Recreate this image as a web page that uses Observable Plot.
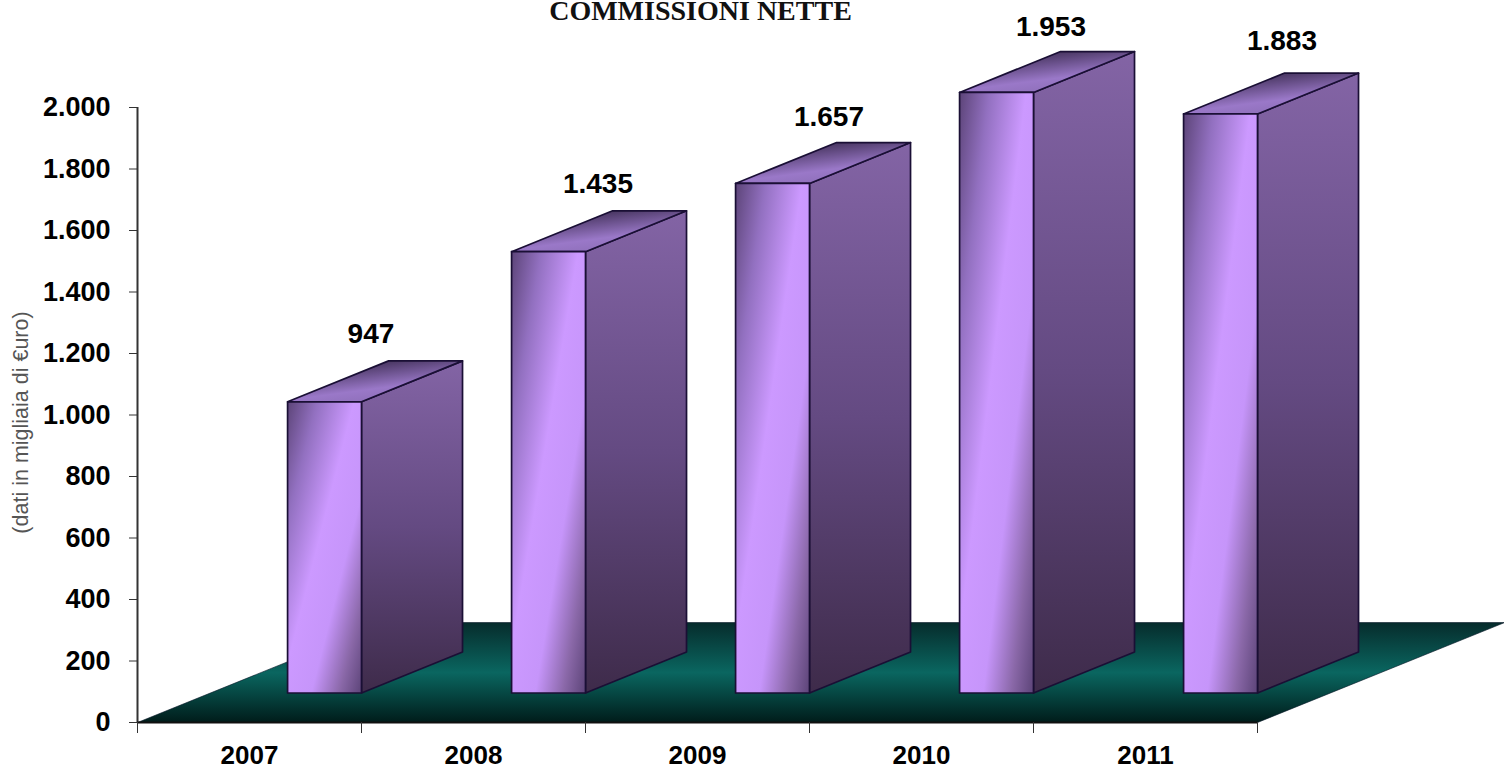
<!DOCTYPE html>
<html lang="it">
<head>
<meta charset="utf-8">
<style>
  html, body { margin: 0; padding: 0; background: #fff; overflow: hidden; }
  svg { display: block; }
</style>
<script src="https://cdn.jsdelivr.net/npm/d3@7"></script>
<script src="https://cdn.jsdelivr.net/npm/@observablehq/plot@0.6"></script>
</head>
<body>
<script>
// Commissioni nette, 2007-2011 (dati in migliaia di euro)
const years = ["2007", "2008", "2009", "2010", "2011"];
const values = [947, 1435, 1657, 1953, 1883];
const yTicks = [0, 200, 400, 600, 800, 1000, 1200, 1400, 1600, 1800, 2000];
const labelShift = [[-4, -68], [-1, -68], [6, -66], [4, -65], [11, -73]];

// Pseudo-3D geometry, in scale units
const lift = 96;            // columns stand on the floor, above zero
const columnStart = 0.67;   // front face starts here within each year's band
const depthX = 0.451;       // receding offset of the columns
const depthY = 133;
const floorDepthX = 1.103;  // receding offset of the floor
const floorDepthY = 325;

const fmt = d3.formatLocale({decimal: ",", thousands: ".", grouping: [3], currency: ["", "€"]}).format(",d");

const poly = (id, pts) => pts.concat([pts[0]]).map(([x, y]) => ({id, x, y}));

const n = years.length;
const floor = poly("floor", [[0, 0], [n, 0], [n + floorDepthX, floorDepthY], [floorDepthX, floorDepthY]]);

const fronts = [], sides = [], tops = [];
values.forEach((v, i) => {
  const x0 = i + columnStart, x1 = i + 1, y0 = lift, y1 = lift + v;
  fronts.push(...poly("f" + i, [[x0, y0], [x1, y0], [x1, y1], [x0, y1]]));
  sides.push(...poly("s" + i, [[x1, y0], [x1 + depthX, y0 + depthY], [x1 + depthX, y1 + depthY], [x1, y1]]));
  tops.push(...poly("t" + i, [[x0, y1], [x1, y1], [x1 + depthX, y1 + depthY], [x0 + depthX, y1 + depthY]]));
});

// Shared gradients; each face resolves them against its own bounding box
function gradients() {
  const defs = d3.create("svg:defs");
  const add = (id, [x1, y1, x2, y2], stops) => {
    const g = defs.append("linearGradient").attr("id", id)
      .attr("x1", x1).attr("y1", y1).attr("x2", x2).attr("y2", y2);
    stops.forEach(([o, c]) => g.append("stop").attr("offset", o).attr("stop-color", c));
  };
  add("frontFill", [0, 0, 1, 1], [[0, "#5c4478"], [0.2, "#9270c0"], [0.45, "#cc99ff"], [0.66, "#c695fa"], [0.85, "#8a68a8"], [1, "#5c4478"]]);
  add("sideFill", [0, 0, 0, 1], [[0, "#8364a5"], [0.5, "#644a82"], [1, "#3e2b4a"]]);
  add("topFill", [0.2, 0, 0.75, 1], [[0, "#2e2040"], [0.65, "#9a78c8"], [1, "#8a6cb4"]]);
  add("floorFill", [0, 0, 0, 1], [[0, "#062c2c"], [0.5, "#0a6660"], [1, "#001c1a"]]);
  return defs.node();
}

const edge = "#1a0f35";
const face = (data, fill) =>
  Plot.line(data, {x: "x", y: "y", z: "id", fill, stroke: edge, strokeWidth: 1.7, curve: "linear"});

const chart = Plot.plot({
  width: 1504,
  height: 769,
  marginTop: 107,
  marginBottom: 47,
  marginLeft: 137,
  marginRight: 247,
  style: {background: "#fff"},
  x: {domain: [0, n]},
  y: {domain: [0, 2000]},
  marks: [
    gradients,
    Plot.line(floor, {x: "x", y: "y", z: "id", fill: "url(#floorFill)", stroke: "#012", strokeWidth: 0.6}),
    face(sides, "url(#sideFill)"),
    face(tops, "url(#topFill)"),
    face(fronts, "url(#frontFill)"),
    Plot.ruleX([0], {y1: 0, y2: 2000, stroke: "#333", strokeWidth: 2}),
    Plot.ruleY([0], {x1: 0, x2: n, stroke: "#111", strokeWidth: 2}),
    Plot.axisY({
      ticks: yTicks, tickSize: 8, tickPadding: 19, tickFormat: fmt, label: null,
      fontSize: 27, fontWeight: "bold", fontFamily: "Liberation Sans", stroke: "#333"
    }),
    Plot.axisX({ticks: d3.range(n + 1), tickSize: 11, tickFormat: () => "", label: null, stroke: "#333"}),
    Plot.axisX({
      ticks: years.map((_, i) => i + 0.5), tickSize: 0, tickPadding: 23,
      tickFormat: d => years[d - 0.5], label: null,
      fontSize: 26, fontWeight: "bold", fontFamily: "Liberation Sans"
    }),
    ...values.map((v, i) => Plot.text([v], {
      x: () => i + 1 + 0.06, y: d => d + lift, text: fmt,
      dx: labelShift[i][0], dy: labelShift[i][1],
      fontSize: 28, fontWeight: "bold", fontFamily: "Liberation Sans", fill: "#000"
    })),
    Plot.text(["COMMISSIONI NETTE"], {
      frameAnchor: "top", lineAnchor: "middle", dx: 3, dy: -96, text: d => d,
      fontSize: 28, fontWeight: "bold", fontFamily: "Liberation Serif", fill: "#111"
    }),
    Plot.text(["(dati in migliaia di €uro)"], {
      frameAnchor: "left", textAnchor: "middle", dx: -116, dy: 7.5, rotate: -90, text: d => d,
      fontSize: 21.5, fontFamily: "Liberation Sans", fill: "#555"
    })
  ]
});
document.body.append(chart);
</script>
</body>
</html>
